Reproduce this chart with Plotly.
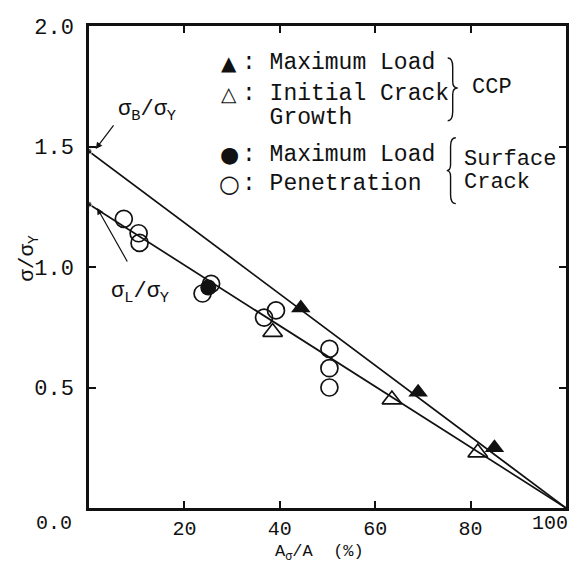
import plotly.graph_objects as go

# ---- data ----
sigma_B = 1.48   # sigma_B / sigma_Y intercept
sigma_L = 1.26   # sigma_L / sigma_Y intercept
line_x = [0, 100]

ccp_max_x = [44.4, 69, 85]
ccp_max_y = [0.83, 0.48, 0.25]

ccp_init_x = [38.5, 63.5, 81.5]
ccp_init_y = [0.73, 0.45, 0.23]

sc_max_x = [25]
sc_max_y = [0.915]

sc_pen_x = [7.3, 10.4, 10.6, 23.8, 25.6, 36.7, 39.2, 50.4, 50.4, 50.4]
sc_pen_y = [1.20, 1.14, 1.10, 0.89, 0.93, 0.79, 0.82, 0.66, 0.58, 0.50]

x_ticks = [20, 40, 60, 80, 100]
x_ticktext = ["20", "40", "60", "80", ""]   # "100" drawn as a note so it stays on the page
y_ticks = [0.5, 1.0, 1.5, 2.0]
y_ticktext = ["0.5", "1.0", "1.5", "2.0"]

FONT = "Liberation Mono, Courier New, monospace"
BLACK = "#111111"

fig = go.Figure()

fig.add_trace(go.Scatter(x=line_x, y=[sigma_B, 0], mode="lines+markers",
                         line=dict(color=BLACK, width=1.7),
                         marker=dict(size=[6, 0], color=BLACK), hoverinfo="skip"))
fig.add_trace(go.Scatter(x=line_x, y=[sigma_L, 0], mode="lines+markers",
                         line=dict(color=BLACK, width=1.7),
                         marker=dict(size=[6, 0], color=BLACK), hoverinfo="skip"))

fig.add_trace(go.Scatter(x=sc_pen_x, y=sc_pen_y, mode="markers",
                         marker=dict(symbol="circle-open", size=17, color=BLACK,
                                     line=dict(width=1.7, color=BLACK))))
fig.add_trace(go.Scatter(x=sc_max_x, y=sc_max_y, mode="markers",
                         marker=dict(symbol="circle", size=16, color=BLACK)))
fig.add_trace(go.Scatter(x=ccp_init_x, y=ccp_init_y, mode="markers",
                         marker=dict(symbol="triangle-up-open", size=17, color=BLACK,
                                     line=dict(width=1.7, color=BLACK))))
fig.add_trace(go.Scatter(x=ccp_max_x, y=ccp_max_y, mode="markers",
                         marker=dict(symbol="triangle-up", size=17, color=BLACK)))

ann = []
def txt(x, y, s, size=22, xanchor="left", xref="x", yref="y", angle=0, family=FONT):
    ann.append(dict(x=x, y=y, xref=xref, yref=yref, text=s, showarrow=False,
                    xanchor=xanchor, yanchor="middle", textangle=angle,
                    font=dict(family=family, size=size, color=BLACK)))

SYM = "DejaVu Sans"
# legend block: symbols
txt(29.4, 1.847, "▲", size=20, xanchor="center", family=SYM)
txt(29.4, 1.718, "△", size=20, xanchor="center", family=SYM)
txt(29.4, 1.466, "●", size=22, xanchor="center", family=SYM)
txt(29.4, 1.346, "○", size=24, xanchor="center", family=SYM)
# legend block: texts
txt(31.7, 1.847, ": Maximum Load", size=23)
txt(31.7, 1.718, ": Initial Crack", size=23)
txt(31.7, 1.619, "  Growth", size=23)
txt(31.7, 1.466, ": Maximum Load", size=23)
txt(31.7, 1.346, ": Penetration", size=23)
txt(79.8, 1.743, "CCP", size=22)
txt(78.1, 1.445, "Surface", size=22)
txt(78.1, 1.350, "Crack", size=22)

# labels for intercepts
txt(12.1, 1.648, "σ<sub>B</sub>/σ<sub>Y</sub>", xanchor="center", size=22)
txt(10.6, 0.894, "σ<sub>L</sub>/σ<sub>Y</sub>", xanchor="center", size=22)

# arrows
ann.append(dict(x=1.4, y=1.49, xref="x", yref="y", ax=19, ay=-25, text="",
                showarrow=True, arrowhead=2, arrowsize=1.1, arrowwidth=1.2, arrowcolor=BLACK))
ann.append(dict(x=1.7, y=1.245, xref="x", yref="y", ax=31, ay=55, text="",
                showarrow=True, arrowhead=2, arrowsize=1.1, arrowwidth=1.2, arrowcolor=BLACK))

# origin label, last x tick label and axis titles
txt(-0.073, -0.033, "0.0", xanchor="center", xref="paper", yref="paper", size=20)
txt(0.967, -0.033, "100", xanchor="center", xref="paper", yref="paper", size=20)
txt(0.483, -0.093, "A<sub>σ</sub>/A  (%)", xanchor="center", xref="paper", yref="paper", size=17)
txt(-0.127, 0.518, "σ/σ<sub>Y</sub>", xanchor="center", xref="paper", yref="paper",
    angle=-90, size=21)

fig.update_layout(annotations=ann)

# braces
fig.add_shape(type="path", xref="x", yref="y",
              path="M 75.2 1.867 Q 76.25 1.867 76.25 1.83 L 76.25 1.77 Q 76.25 1.743 77.3 1.743 "
                   "Q 76.25 1.743 76.25 1.716 L 76.25 1.645 Q 76.25 1.607 75.2 1.607",
              line=dict(color=BLACK, width=1.4))
fig.add_shape(type="path", xref="x", yref="y",
              path="M 76.9 1.536 Q 75.8 1.536 75.8 1.50 L 75.8 1.425 Q 75.8 1.40 75.0 1.40 "
                   "Q 75.8 1.40 75.8 1.375 L 75.8 1.30 Q 75.8 1.263 76.9 1.263",
              line=dict(color=BLACK, width=1.4))

# page body has an 8px margin; size the figure so the page does not overflow
# and the plot lands where the reference has it
fig.update_layout(
    width=569, height=553,
    margin=dict(l=81, r=8, t=17, b=53),
    paper_bgcolor="white", plot_bgcolor="white",
    showlegend=False,
    font=dict(family=FONT, size=22, color=BLACK),
)
fig.update_xaxes(range=[0, 100], tickvals=x_ticks, ticktext=x_ticktext,
                 ticks="inside", ticklen=7,
                 tickwidth=1.5, tickcolor=BLACK, showline=True, linewidth=2.5,
                 linecolor=BLACK, mirror="ticks", showgrid=False, zeroline=False,
                 ticklabelstandoff=0,
                 tickfont=dict(family=FONT, size=20, color=BLACK))
fig.update_yaxes(range=[0, 2], tickvals=y_ticks, ticktext=y_ticktext,
                 ticks="inside", ticklen=7, tickwidth=1.5, tickcolor=BLACK,
                 showline=True, linewidth=2.5, linecolor=BLACK, mirror="ticks",
                 showgrid=False, zeroline=False, ticklabelstandoff=8,
                 tickfont=dict(family=FONT, size=22, color=BLACK))

fig.write_html("out.html")
